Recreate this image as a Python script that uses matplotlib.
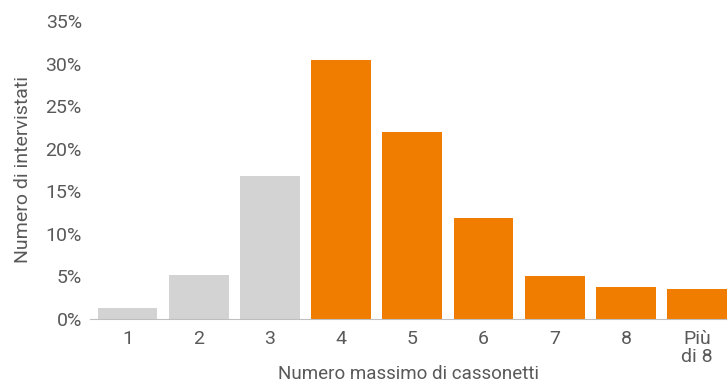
import matplotlib.pyplot as plt
from matplotlib.ticker import PercentFormatter

categories = ['1', '2', '3', '4', '5', '6', '7', '8', 'Più\ndi 8']
values = [1.3, 5.2, 16.8, 30.4, 22.0, 11.9, 5.1, 3.8, 3.5]
colors = ['#D3D3D3'] * 3 + ['#F07D00'] * 6

plt.rcParams['font.family'] = ['Roboto', 'DejaVu Sans']

fig = plt.figure(figsize=(7.27, 3.82), dpi=100)
ax = fig.add_axes([0.124, 0.165, 0.876, 0.78])

x = list(range(len(categories)))
ax.bar(x, values, width=0.84, color=colors)

ax.set_ylim(0, 35)
ax.set_xlim(-0.525, 8.42)
ax.set_yticks(range(0, 36, 5))
ax.yaxis.set_major_formatter(PercentFormatter(decimals=0))
ax.set_xticks(x)
ax.set_xticklabels(categories, linespacing=1.0)

for s in ['top', 'right', 'left']:
    ax.spines[s].set_visible(False)
ax.spines['bottom'].set_color('#BFBFBF')
ax.tick_params(axis='both', colors='#595959', labelsize=14, length=0, pad=6)
ax.tick_params(axis='x', pad=8)

ax.set_xlabel('Numero massimo di cassonetti', fontsize=13.5, color='#595959', labelpad=-1)
ax.set_ylabel('Numero di intervistati', fontsize=14, color='#595959', labelpad=10)

fig.savefig('out.png', dpi=100)
